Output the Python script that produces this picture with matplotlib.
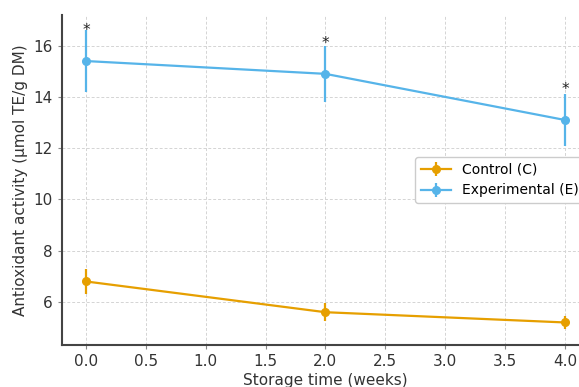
import matplotlib
matplotlib.use("Agg")
import matplotlib.pyplot as plt

weeks = [0, 2, 4]
control_mean = [6.8, 5.6, 5.2]
control_err = [0.5, 0.35, 0.25]
exp_mean = [15.4, 14.9, 13.1]
exp_err = [1.2, 1.1, 1.0]
star_y = [16.6, 16.1, 14.3]

c_col = "#E69F00"
e_col = "#56B4E9"

fig = plt.figure(figsize=(5.79, 3.87), dpi=100)
ax = fig.add_axes([0.107, 0.1085, 0.910, 0.853])

ax.errorbar(weeks, control_mean, yerr=control_err, color=c_col, marker="o",
            markersize=5.5, lw=1.6, elinewidth=1.6, capsize=0, label="Control (C)")
ax.errorbar(weeks, exp_mean, yerr=exp_err, color=e_col, marker="o",
            markersize=5.5, lw=1.6, elinewidth=1.6, capsize=0, label="Experimental (E)")
for x, y in zip(weeks, star_y):
    ax.text(x, y, "*", ha="center", va="center", fontsize=11, color="#222222")

ax.set_xlim(-0.2, 4.2)
ax.set_ylim(4.32, 17.2)
ax.set_xticks([0, 0.5, 1.0, 1.5, 2.0, 2.5, 3.0, 3.5, 4.0])
ax.set_yticks([6, 8, 10, 12, 14, 16])
ax.tick_params(labelsize=11, length=3, color="#888888", labelcolor="#333333")
ax.grid(True, ls=(0, (3, 2)), color="#d4d4d4", lw=0.7)
ax.set_axisbelow(True)
for s in ["top", "right"]:
    ax.spines[s].set_visible(False)
for s in ["left", "bottom"]:
    ax.spines[s].set_color("#444444")
    ax.spines[s].set_linewidth(1.5)

ax.set_xlabel("Storage time (weeks)", fontsize=11, color="#333333", labelpad=3)
ax.set_ylabel("Antioxidant activity (µmol TE/g DM)", fontsize=11, color="#333333")
ax.legend(loc="center right", fontsize=10, framealpha=1, edgecolor="#cccccc",
          bbox_to_anchor=(1.0, 0.5), borderaxespad=0.3, handlelength=2.2)

fig.savefig("out.png", dpi=100)
